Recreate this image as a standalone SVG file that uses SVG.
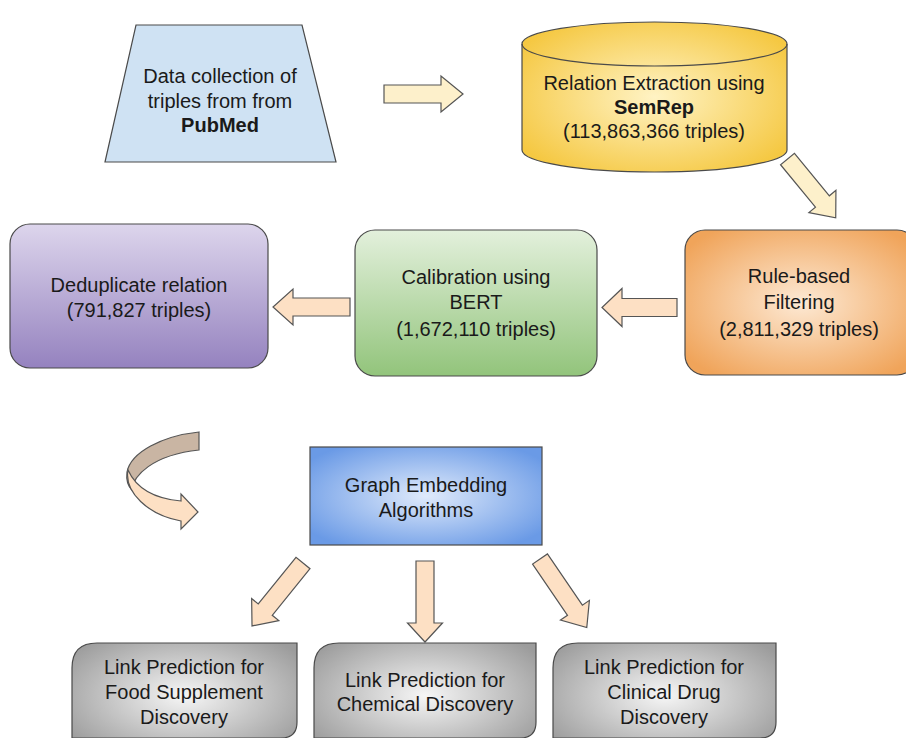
<svg xmlns="http://www.w3.org/2000/svg" width="906" height="738" viewBox="0 0 906 738">
<style>
text{font-family:"Liberation Sans",Arial,sans-serif;font-size:20px;fill:#1a1a1a;text-anchor:middle}
.b{font-weight:bold}
.sh{stroke:#4a4a4a;stroke-width:1.2}
.arr{stroke:#555;stroke-width:1.2;stroke-linejoin:miter}
.cream{fill:#fdf0cb}
.peach{fill:#fde0c4}
</style>
<defs>
<radialGradient id="gYel" cx="50%" cy="50%" r="60%"><stop offset="0" stop-color="#fff3c4"/><stop offset="1" stop-color="#f5c842"/></radialGradient>
<radialGradient id="gOr" cx="50%" cy="50%" r="62%"><stop offset="0" stop-color="#fde9d4"/><stop offset="1" stop-color="#f0a45a"/></radialGradient>
<linearGradient id="gGr" x1="0" y1="0" x2="0" y2="1"><stop offset="0" stop-color="#e3f0dc"/><stop offset="1" stop-color="#92c47b"/></linearGradient>
<linearGradient id="gPu" x1="0" y1="0" x2="0" y2="1"><stop offset="0" stop-color="#ddd5ec"/><stop offset="1" stop-color="#9582bf"/></linearGradient>
<radialGradient id="gBl" cx="50%" cy="50%" r="62%"><stop offset="0" stop-color="#dfeafb"/><stop offset="1" stop-color="#6a9ae6"/></radialGradient>
<radialGradient id="gGy" cx="50%" cy="45%" r="62%"><stop offset="0" stop-color="#f6f6f6"/><stop offset="1" stop-color="#9c9c9c"/></radialGradient>
</defs>

<g id="connectors">
<path class="arr cream" transform="translate(384,94)" d="M0,-9 H57 V-18 L79,0 L57,18 V9 H0 Z"/>
<path class="arr cream" transform="translate(787.5,159) rotate(50.6)" d="M0,-9 H55 V-17.5 L76,0 L55,17.5 V9 H0 Z"/>
<path class="arr peach" transform="translate(677,307.5) rotate(180)" d="M0,-9 H55 V-19 L75,0 L55,19 V9 H0 Z"/>
<path class="arr peach" transform="translate(350,307) rotate(180)" d="M0,-9 H57 V-18 L77,0 L57,18 V9 H0 Z"/>
<path class="arr peach" transform="translate(303,563) rotate(129)" d="M0,-9 H60 V-17.5 L81,0 L60,17.5 V9 H0 Z"/>
<path class="arr peach" transform="translate(425,561) rotate(90)" d="M0,-9 H62 V-17.5 L81,0 L62,17.5 V9 H0 Z"/>
<path class="arr peach" transform="translate(540,559) rotate(55.7)" d="M0,-9 H62 V-17.5 L83,0 L62,17.5 V9 H0 Z"/>
<g id="curved-arrow">
<path class="arr" fill="#c9b5a3" d="M199,432 C162,436 131,452 127,472 C126,480 128,486 132,490 C133,476 152,455 199,450 Z"/>
<path class="arr peach" d="M128,470 C124,492 148,515 181,521 L181,529 L198,512 L181,494 L181,501 C158,499 137,490 128,470 Z"/>
</g>
</g>

<g id="n-pubmed">
<path class="sh" fill="#cfe2f3" d="M136,25 H302 L336,162 H105 Z"/>
<text x="220" y="83">Data collection of</text>
<text x="220" y="108">triples from from</text>
<text x="220" y="132" class="b">PubMed</text>
</g>

<g id="n-semrep">
<path class="sh" fill="url(#gYel)" d="M522,44 A132.5,22 0 0 1 787,44 V150 A132.5,22 0 0 1 522,150 Z"/>
<path fill="none" class="sh" d="M522,44 A132.5,22 0 0 0 787,44"/>
<text x="654" y="90">Relation Extraction using</text>
<text x="654" y="114" class="b">SemRep</text>
<text x="654" y="138">(113,863,366 triples)</text>
</g>

<g id="n-rule">
<rect class="sh" fill="url(#gOr)" x="685" y="230" width="232" height="145" rx="20"/>
<text x="799" y="283">Rule-based</text>
<text x="799" y="309">Filtering</text>
<text x="799" y="336">(2,811,329 triples)</text>
</g>

<g id="n-bert">
<rect class="sh" fill="url(#gGr)" x="355" y="230" width="242" height="146" rx="20"/>
<text x="476" y="284">Calibration using</text>
<text x="476" y="309">BERT</text>
<text x="476" y="336">(1,672,110 triples)</text>
</g>

<g id="n-dedup">
<rect class="sh" fill="url(#gPu)" x="10" y="224" width="258" height="144" rx="20"/>
<text x="139" y="292">Deduplicate relation</text>
<text x="139" y="317">(791,827 triples)</text>
</g>

<g id="n-graph">
<rect class="sh" fill="url(#gBl)" x="310" y="447" width="232" height="98"/>
<text x="426" y="492">Graph Embedding</text>
<text x="426" y="517">Algorithms</text>
</g>

<g id="n-food">
<path class="sh" fill="url(#gGy)" d="M72,760 V668 Q72,643 97,643 H297 V722 Q297,738 281,738 H72"/>
<text x="184" y="674">Link Prediction for</text>
<text x="184" y="699">Food Supplement</text>
<text x="184" y="724">Discovery</text>
</g>

<g id="n-chem">
<path class="sh" fill="url(#gGy)" d="M314,760 V668 Q314,643 339,643 H536 V722 Q536,738 520,738 H314"/>
<text x="425" y="687">Link Prediction for</text>
<text x="425" y="711">Chemical Discovery</text>
</g>

<g id="n-drug">
<path class="sh" fill="url(#gGy)" d="M553,760 V668 Q553,643 578,643 H776 V722 Q776,738 760,738 H553"/>
<text x="664" y="674">Link Prediction for</text>
<text x="664" y="699">Clinical Drug</text>
<text x="664" y="724">Discovery</text>
</g>
</svg>
